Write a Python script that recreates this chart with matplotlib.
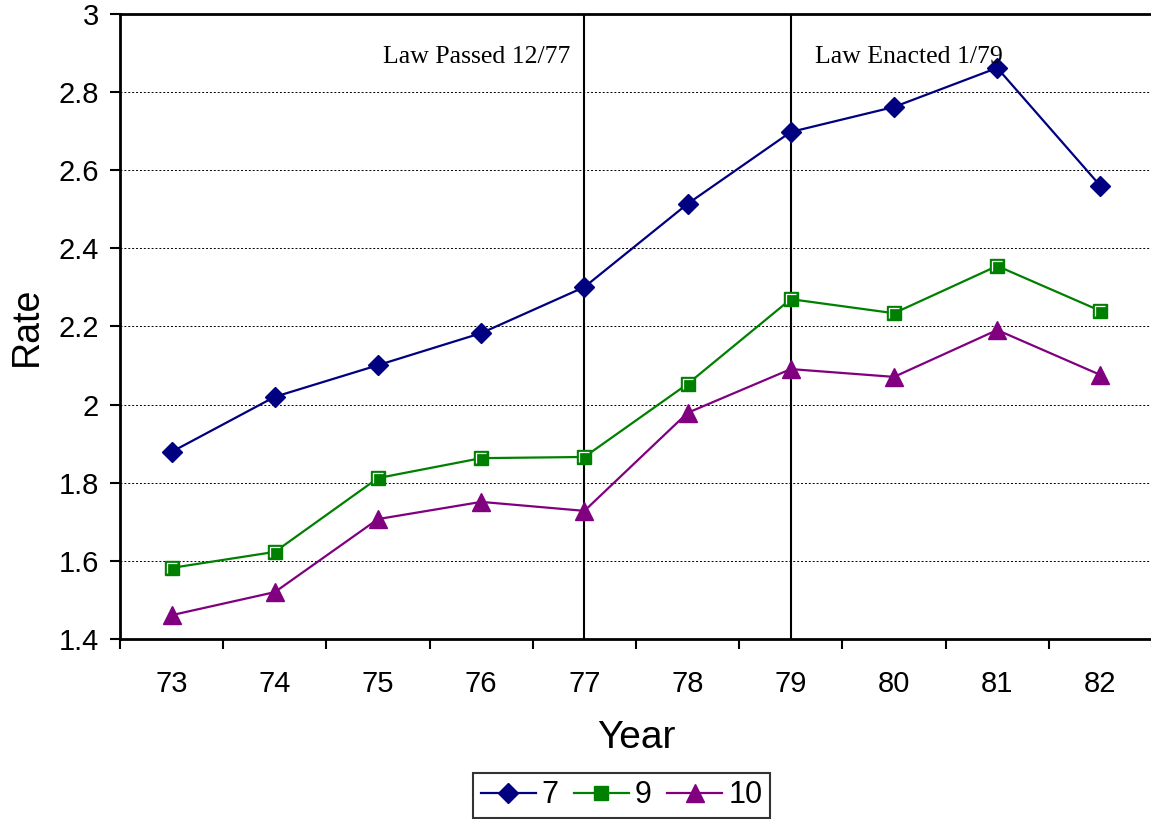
import matplotlib
matplotlib.use("Agg")
import matplotlib.pyplot as plt
import matplotlib.ticker as ticker

plt.rcParams["font.family"] = ["Liberation Sans", "DejaVu Sans"]

# --- Data ---
years = [73, 74, 75, 76, 77, 78, 79, 80, 81, 82]
rate_7 = [1.879, 2.020, 2.101, 2.183, 2.301, 2.514, 2.698, 2.762, 2.862, 2.560]
rate_9 = [1.582, 1.623, 1.812, 1.863, 1.866, 2.053, 2.270, 2.234, 2.355, 2.240]
rate_10 = [1.461, 1.520, 1.707, 1.751, 1.728, 1.979, 2.091, 2.071, 2.191, 2.076]

law_years = [77, 79]
law_labels = ["Law Passed 12/77", "Law Enacted 1/79"]

# --- Style ---
style_7 = {"color": "#000080", "marker": "D", "markersize": 10.5, "lw": 1.6}
style_9 = {"color": "#008000", "marker": "s", "markersize": 10, "lw": 1.6}
style_10 = {"color": "#800080", "marker": "^", "markersize": 12.5, "lw": 1.6}

fig = plt.figure(figsize=(11.51, 8.19), dpi=100)
ax = fig.add_axes([120 / 1151, 1 - 639 / 819, 1032 / 1151, 625 / 819])

# law markers
for yr in law_years:
    ax.axvline(yr, color="black", lw=1.5, zorder=1)

l7, = ax.plot(years, rate_7, label="7", zorder=3, **style_7)
l9, = ax.plot(years, rate_9, label="9", zorder=3, **style_9)
# white highlight inside the square markers
ax.plot(years, rate_9, ls="none", marker=[(-1, -1), (-1, 1), (1, 1)],
        markersize=6.5, markerfacecolor="none", markeredgecolor="white",
        markeredgewidth=0.9, zorder=4)
l10, = ax.plot(years, rate_10, label="10", zorder=3, **style_10)

ax.text(75.05, 2.89, law_labels[0], fontsize=18.5, family="Liberation Serif",
        ha="left", va="center")
ax.text(79.23, 2.89, law_labels[1], fontsize=18.5, family="Liberation Serif",
        ha="left", va="center")

# axes
ax.set_xlim(72.5, 82.5)
ax.set_ylim(1.4, 3.0)
ax.xaxis.set_major_locator(ticker.MultipleLocator(1, offset=0.5))
ax.xaxis.set_major_formatter(ticker.NullFormatter())
ax.xaxis.set_minor_locator(ticker.FixedLocator(years))
ax.xaxis.set_minor_formatter(ticker.FixedFormatter([str(y) for y in years]))
ax.tick_params(axis="x", which="major", direction="out", length=7, width=1.5)
ax.tick_params(axis="x", which="minor", length=0, pad=22, labelsize=21)
ax.yaxis.set_major_locator(ticker.MultipleLocator(0.2))
ax.yaxis.set_major_formatter(ticker.FuncFormatter(lambda v, _: f"{v:g}"))
ax.tick_params(axis="y", direction="out", length=7, width=1.5, pad=8, labelsize=21)

ax.grid(True, axis="y", color="black", ls=(0, (2, 2)), lw=0.7)
ax.set_axisbelow(True)

for side in ["left", "bottom", "top"]:
    ax.spines[side].set_linewidth(2)
ax.spines["right"].set_visible(False)

ax.set_xlabel("Year", fontsize=28, labelpad=16)
ax.set_ylabel("Rate", fontsize=27, labelpad=10)

leg = fig.legend(handles=[l7, l9, l10], loc="center", ncol=3,
                 bbox_to_anchor=(0.540, 0.029), fontsize=22, frameon=True,
                 fancybox=False, edgecolor="black", handlelength=1.8,
                 columnspacing=0.5, handletextpad=0.2, borderpad=0.25,
                 borderaxespad=0)
leg.get_frame().set_linewidth(1.5)

fig.savefig("out.png", dpi=100)
